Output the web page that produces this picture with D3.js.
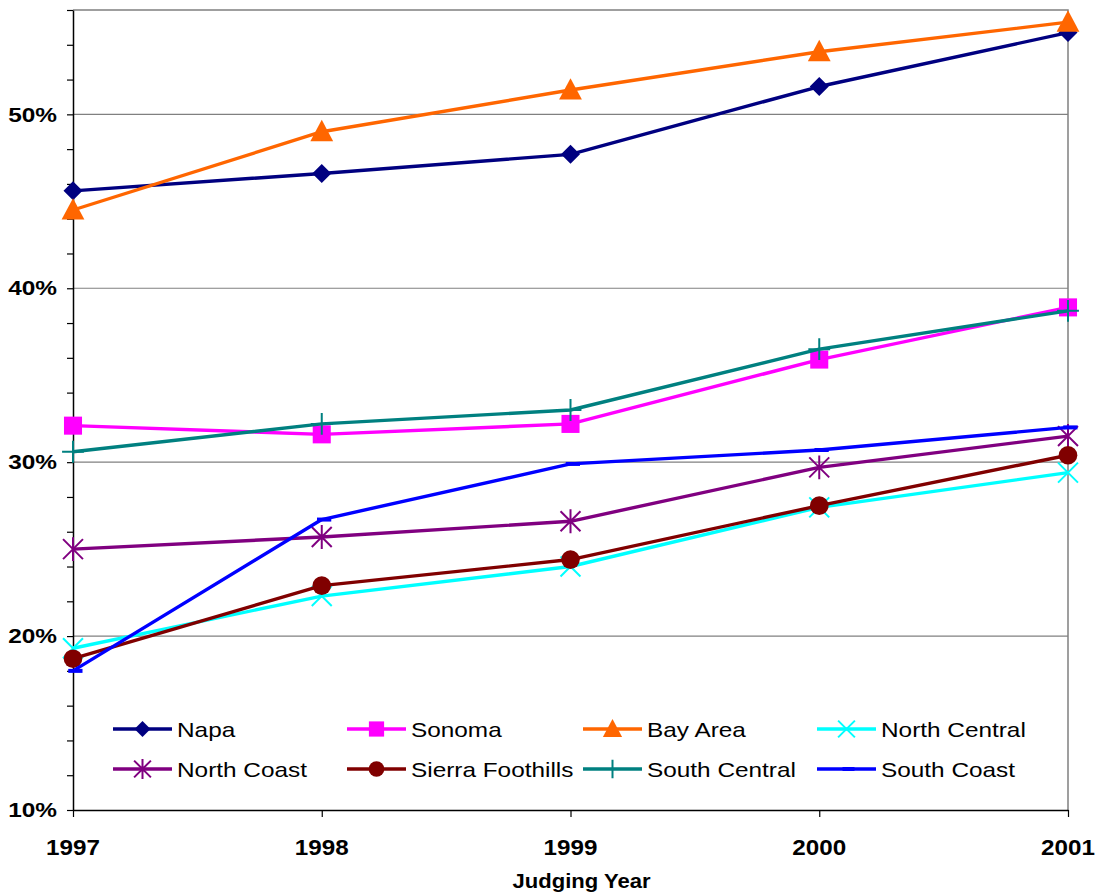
<!DOCTYPE html>
<html>
<head>
<meta charset="utf-8">
<script src="https://cdn.jsdelivr.net/npm/d3@7/dist/d3.min.js"></script>
<style>
  html, body { margin: 0; padding: 0; background: #fff; }
  svg { display: block; font-family: "Liberation Sans", Arial, sans-serif; }
</style>
</head>
<body>
<svg id="chart" width="1101" height="896"></svg>
<script>
// Judging years (category axis)
const years = ["1997", "1998", "1999", "2000", "2001"];

// Share per region, in percent
const napa            = [45.6, 46.6, 47.7, 51.6, 54.7];
const sonoma          = [32.1, 31.6, 32.2, 35.9, 38.9];
const bayArea         = [44.5, 49.0, 51.4, 53.6, 55.3];
const northCentral    = [19.3, 22.3, 24.0, 27.4, 29.4];
const northCoast      = [25.0, 25.7, 26.6, 29.7, 31.5];
const sierraFoothills = [18.7, 22.9, 24.4, 27.5, 30.4];
const southCentral    = [30.6, 32.2, 33.0, 36.5, 38.7];
const southCoast      = [18.0, 26.7, 29.9, 30.7, 32.0];

const yTicks = [10, 20, 30, 40, 50];
const yMinorTicks = d3.range(10, 56.01, 2);

const series = [
  { name: "Napa",             values: napa,            color: "#000080", marker: "diamond" },
  { name: "Sonoma",           values: sonoma,          color: "#FF00FF", marker: "square" },
  { name: "Bay Area",         values: bayArea,         color: "#FF6600", marker: "triangle" },
  { name: "North Central",    values: northCentral,    color: "#00FFFF", marker: "x" },
  { name: "North Coast",      values: northCoast,      color: "#800080", marker: "star" },
  { name: "Sierra Foothills", values: sierraFoothills, color: "#800000", marker: "circle" },
  { name: "South Central",    values: southCentral,    color: "#008080", marker: "plus" },
  { name: "South Coast",      values: southCoast,      color: "#0000FF", marker: "dash" }
];

const svg = d3.select("#chart");
const plotLeft = 73, plotRight = 1068, plotTop = 10, plotBottom = 810;

const x = d3.scalePoint().domain(years).range([plotLeft, plotRight]);
const y = d3.scaleLinear().domain([10, 56]).range([plotBottom, plotTop]);

// Gridlines at major ticks
svg.append("g").selectAll("line").data(yTicks.slice(1)).join("line")
  .attr("x1", plotLeft).attr("x2", plotRight)
  .attr("y1", d => y(d)).attr("y2", d => y(d))
  .attr("stroke", "#808080").attr("stroke-width", 1.2);

// Plot frame (top and right)
svg.append("path")
  .attr("d", `M${plotLeft},${y(56)}H${plotRight}V${plotBottom}`)
  .attr("fill", "none").attr("stroke", "#808080").attr("stroke-width", 1.5);

// Y axis: minor ticks every 2%, labels at every 10%
const yAxisG = svg.append("g").attr("transform", `translate(${plotLeft},0)`);
yAxisG.call(d3.axisLeft(y).tickValues(yMinorTicks).tickSize(6).tickSizeOuter(0).tickFormat(""));
yAxisG.select(".domain").attr("stroke", "#000").attr("stroke-width", 1.5);
yAxisG.selectAll(".tick line").attr("stroke", "#000").attr("stroke-width", 1.2);
svg.append("g").selectAll("text").data(yTicks).join("text")
  .attr("transform", d => `translate(57,${y(d)}) scale(1.22,1)`)
  .attr("dy", "0.36em")
  .attr("text-anchor", "end")
  .attr("font-size", 20).attr("font-weight", "bold")
  .text(d => d + "%");

// X axis
const xAxisG = svg.append("g").attr("transform", `translate(0,${plotBottom})`);
xAxisG.call(d3.axisBottom(x).tickSize(7).tickSizeOuter(0).tickFormat(""));
xAxisG.select(".domain").attr("stroke", "#000").attr("stroke-width", 1.5);
xAxisG.selectAll(".tick line").attr("stroke", "#000").attr("stroke-width", 1.2);
svg.append("g").selectAll("text").data(years).join("text")
  .attr("transform", d => `translate(${x(d)},855) scale(1.1,1)`)
  .attr("text-anchor", "middle")
  .attr("font-size", 22).attr("font-weight", "bold")
  .text(d => d);

svg.append("text")
  .attr("transform", "translate(581.5,888) scale(1.05,1)")
  .attr("text-anchor", "middle")
  .attr("font-size", 21).attr("font-weight", "bold")
  .text("Judging Year");

// Marker shapes
function drawMarker(g, type, color, s) {
  switch (type) {
    case "diamond":
      g.append("path").attr("d", `M0,${-s}L${s},0L0,${s}L${-s},0Z`).attr("fill", color);
      break;
    case "square":
      g.append("rect").attr("x", -s * 0.95).attr("y", -s * 0.95)
        .attr("width", s * 1.9).attr("height", s * 1.9).attr("fill", color);
      break;
    case "triangle":
      g.append("path").attr("d", `M0,${-s * 1.25}L${s * 1.2},${s * 1.0}L${-s * 1.2},${s * 1.0}Z`).attr("fill", color);
      break;
    case "circle":
      g.append("circle").attr("r", s * 0.98).attr("fill", color);
      break;
    case "x": {
      const a = s * 1.05;
      g.append("path").attr("d", `M${-a},${-a}L${a},${a}M${-a},${a}L${a},${-a}`)
        .attr("stroke", color).attr("stroke-width", 2);
      break;
    }
    case "star": {
      const a = s * 1.05;
      g.append("path").attr("d", `M${-a},${-a}L${a},${a}M${-a},${a}L${a},${-a}M0,${-a * 1.2}V${a * 1.2}`)
        .attr("stroke", color).attr("stroke-width", 2);
      break;
    }
    case "plus": {
      const a = s * 1.15;
      g.append("path").attr("d", `M${-a},0H${a}M0,${-a}V${a}`)
        .attr("stroke", color).attr("stroke-width", 2);
      break;
    }
    case "dash":
      g.append("rect").attr("x", -s * 0.5).attr("y", -2).attr("width", s * 1.5).attr("height", 4)
        .attr("fill", color);
      break;
  }
}

// Series lines and markers
const line = d3.line().x((d, i) => x(years[i])).y(d => y(d));
series.forEach(s => {
  const g = svg.append("g");
  g.append("path").datum(s.values)
    .attr("d", line)
    .attr("fill", "none").attr("stroke", s.color)
    .attr("stroke-width", 3.4).attr("stroke-linejoin", "round");
  s.values.forEach((v, i) => {
    const m = g.append("g").attr("transform", `translate(${x(years[i])},${y(v)})`);
    drawMarker(m, s.marker, s.color, 9.5);
  });
});

// Legend: four columns, two rows
const legendCols = [113, 347, 583, 817];
const legendRows = [729, 769];
const lg = svg.append("g");
series.forEach((s, i) => {
  const cx = legendCols[i % 4], cy = legendRows[Math.floor(i / 4)];
  const item = lg.append("g").attr("transform", `translate(${cx},${cy})`);
  item.append("line").attr("x1", 0).attr("x2", 59).attr("y1", 0).attr("y2", 0)
    .attr("stroke", s.color).attr("stroke-width", 3.4);
  const m = item.append("g").attr("transform", "translate(29.5,0)");
  drawMarker(m, s.marker, s.color, 8);
  item.append("text")
    .attr("transform", "translate(64,0) scale(1.16,1)")
    .attr("dy", "0.36em")
    .attr("font-size", 21).attr("fill", "#000")
    .text(s.name);
});
</script>
</body>
</html>
